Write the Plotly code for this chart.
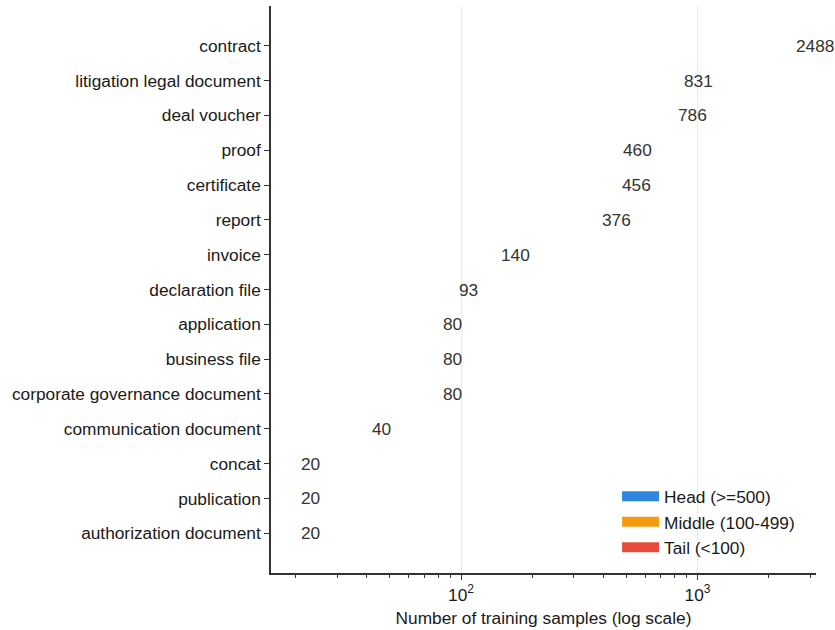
import math
import plotly.graph_objects as go

categories = [
    "contract", "litigation legal document", "deal voucher", "proof",
    "certificate", "report", "invoice", "declaration file", "application",
    "business file", "corporate governance document", "communication document",
    "concat", "publication", "authorization document",
]
samples = [2488, 831, 786, 460, 456, 376, 140, 93, 80, 80, 80, 40, 20, 20, 20]

legend_names = ["Head (>=500)", "Middle (100-499)", "Tail (<100)"]
legend_colors = ["#2E86DE", "#F39C12", "#E74C3C"]

major_ticks = [100, 1000]
major_text = ["10<sup>2</sup>", "10<sup>3</sup>"]
minor_ticks = [20, 30, 40, 50, 60, 70, 80, 90, 200, 300, 400, 500, 600, 700,
               800, 900, 2000, 3000]

FONT = "Liberation Sans, Arial, Helvetica, sans-serif"
FS = 17.3

fig = go.Figure()

# legend-only entries (bars are not rendered in the reference)
for name, col in zip(legend_names, legend_colors):
    fig.add_trace(go.Scatter(
        x=[None], y=[None], mode="lines", name=name,
        line=dict(color=col, width=13),
    ))

# value labels placed at each value on the log axis
for cat, v in zip(categories, samples):
    fig.add_annotation(
        x=math.log10(v * 1.03), y=cat, text=str(v), showarrow=False,
        xanchor="left", yanchor="middle", xref="x", yref="y",
        font=dict(family=FONT, size=FS, color="#333333"),
    )

lo = math.log10(min(samples))
hi = math.log10(max(samples))
pad = (hi - lo) * 0.05
n = len(categories)

fig.update_layout(
    width=835, height=630,
    margin=dict(l=271, r=19, t=6, b=57, autoexpand=False),
    paper_bgcolor="white", plot_bgcolor="white",
    font=dict(family=FONT, size=FS, color="#1a1a1a"),
    showlegend=True,
    legend=dict(
        x=0.635, y=0.013, xanchor="left", yanchor="bottom",
        bgcolor="rgba(255,255,255,0)", font=dict(size=FS, color="#1a1a1a"),
        tracegroupgap=0, itemwidth=37,
    ),
    xaxis=dict(
        type="log", range=[lo - pad, hi + pad], automargin=False,
        showline=True, linecolor="#333333", linewidth=1.5,
        ticks="outside", ticklen=5, tickcolor="#333333", tickwidth=1.2,
        tickmode="array", tickvals=major_ticks, ticktext=major_text,
        showgrid=True, gridcolor="#ebebeb", gridwidth=1,
        minor=dict(ticks="outside", ticklen=3, tickcolor="#333333",
                   tickvals=minor_ticks, showgrid=False),
        title=dict(text="Number of training samples (log scale)",
                   font=dict(size=FS), standoff=8),
        tickfont=dict(size=FS), zeroline=False,
    ),
    yaxis=dict(
        type="category", categoryorder="array", categoryarray=categories,
        range=[n - 1 + 1.14, -1.14], automargin=False,
        showline=True, linecolor="#333333", linewidth=1.5,
        ticks="outside", ticklen=5, tickcolor="#333333", tickwidth=1.2,
        showgrid=False, zeroline=False, tickfont=dict(size=FS),
    ),
)

fig.write_html("out.html",
               config={"displayModeBar": False},
               post_script="document.body.style.margin='0';")
